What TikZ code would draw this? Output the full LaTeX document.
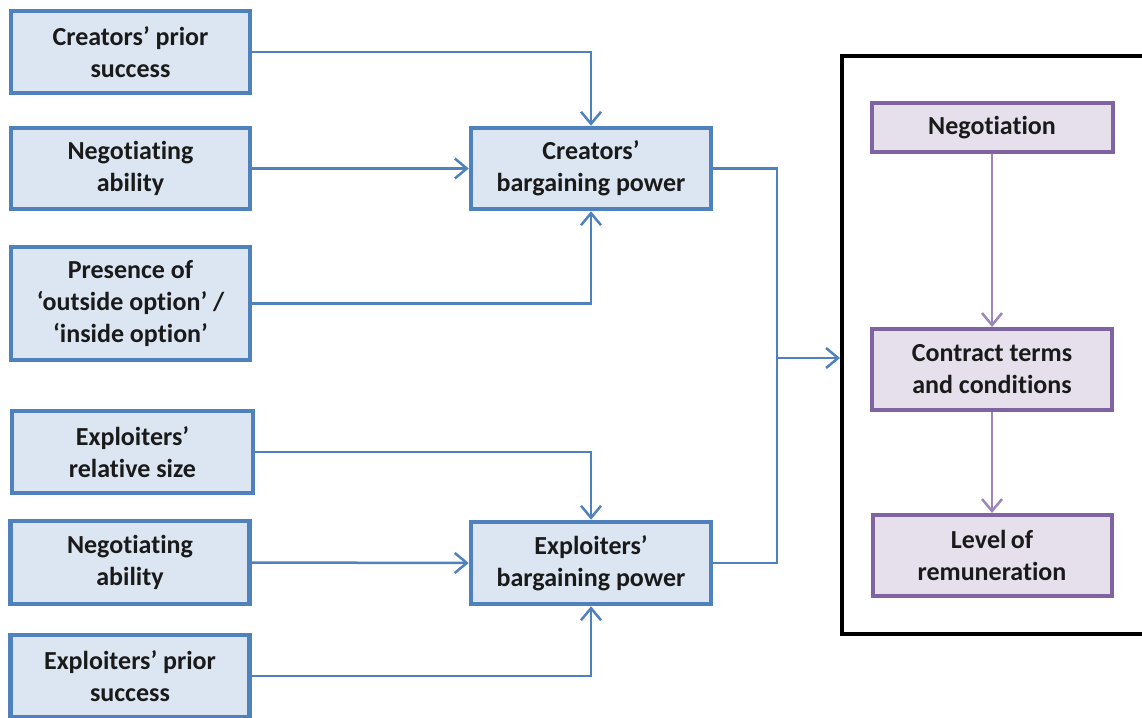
\documentclass[tikz,border=0pt]{standalone}
\usepackage{fontspec}
\setmainfont{Carlito}[Ligatures=NoCommon]
\usetikzlibrary{arrows.meta}
\definecolor{bbord}{HTML}{4F81BD}
\definecolor{bfill}{HTML}{DCE6F2}
\definecolor{pbord}{HTML}{8064A2}
\definecolor{pfill}{HTML}{E6E0EC}
\definecolor{parr}{HTML}{9B86BD}
\definecolor{txt}{HTML}{1A1A1A}
\begin{document}
\begin{tikzpicture}[x=1pt,y=-1pt,
  boxbase/.style={align=center,inner sep=0pt,text=txt,
    font=\fontsize{26}{32}\selectfont\bfseries},
  bluebox/.style={boxbase,draw=bbord,fill=bfill,line width=4.5pt,minimum width=239pt},
  purplebox/.style={boxbase,draw=pbord,fill=pfill,line width=4pt,minimum width=239pt},
  arr/.style={draw=bbord,line width=2.5pt,-{Straight Barb[length=12pt,width=20pt,line width=2.5pt]}},
  plain/.style={draw=bbord,line width=2.5pt},
  parrow/.style={draw=parr,line width=2.5pt,-{Straight Barb[length=12pt,width=20pt,line width=2.5pt]}}
]
\useasboundingbox (0,0) rectangle (1142,717);

% outer frame
\node[draw=black,line width=4pt,minimum width=312pt,minimum height=577pt,inner sep=0pt] (outer) at (998,345) {};

% left input boxes
\node[bluebox,minimum height=82pt] (b1) at (130.5,52) {Creators’ prior\\success};
\node[bluebox,minimum height=81pt] (b2) at (130.5,168.5) {Negotiating\\ability};
\node[bluebox,minimum height=113pt] (b3) at (130.5,303.5) {Presence of\\‘outside option’ /\\‘inside option’};
\node[bluebox,minimum height=82pt,minimum width=241pt] (b4) at (132.5,452) {Exploiters’\\relative size};
\node[bluebox,minimum height=83pt] (b5) at (130,562.5) {Negotiating\\ability};
\node[bluebox,minimum height=82pt] (b6) at (130,676) {Exploiters’ prior\\success};

% middle boxes
\node[bluebox,minimum height=81pt,minimum width=240pt] (cb) at (591,168.5) {Creators’\\bargaining power};
\node[bluebox,minimum height=82pt,minimum width=240pt] (eb) at (591,563) {Exploiters’\\bargaining power};

% right boxes
\node[purplebox,minimum height=49pt,minimum width=241pt] (neg) at (992,127.5) {Negotiation};
\node[purplebox,minimum height=81pt,minimum width=240pt] (con) at (992,369.5) {Contract terms\\and conditions};
\node[purplebox,minimum height=81pt,minimum width=239pt] (lev) at (992,555.5) {Level\,of\\remuneration};

% connectors
\draw[arr] (b1.east) -| (cb.north);
\draw[arr] (b2.east) -- (cb.west);
\draw[arr] (b3.east) -| (cb.south);
\draw[arr] (b4.east) -| (eb.north);
\draw[arr] (b5.east) -- (eb.west);
\draw[arr] (b6.east) -| (eb.south);

\coordinate (j) at (777,358);
\draw[plain] (cb.east) -| (j);
\draw[plain] (eb.east) -| (j);
\draw[arr] (j) -- (j -| outer.west);

\draw[parrow] (neg.south) -- (con.north);
\draw[parrow] (con.south) -- (lev.north);
\end{tikzpicture}
\end{document}
